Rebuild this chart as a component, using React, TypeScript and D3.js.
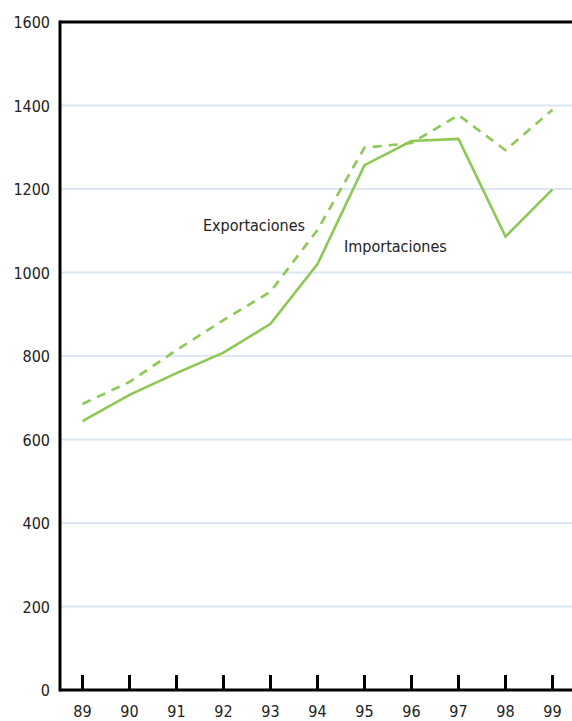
import React from 'react';
import * as d3 from 'd3';

const years = ['89', '90', '91', '92', '93', '94', '95', '96', '97', '98', '99'];
const importaciones = [644, 707, 759, 808, 877, 1020, 1257, 1315, 1320, 1086, 1199];
const exportaciones = [685, 738, 814, 886, 954, 1102, 1299, 1310, 1377, 1293, 1390];
const yTicks = [0, 200, 400, 600, 800, 1000, 1200, 1400, 1600];

const W = 572;
const H = 721;
const left = 60;
const top = 22;
const bottom = 690;
const green = '#8dc855';
const font = "'DejaVu Sans Condensed', 'Liberation Sans Narrow', sans-serif";

const App: React.FC = () => {
  const x = d3.scalePoint<string>().domain(years).range([82.5, 552.5]);
  const y = d3.scaleLinear().domain([0, 1600]).range([bottom, top]);

  const line = d3
    .line<number>()
    .x((_, i) => x(years[i]) as number)
    .y((d) => y(d));

  return (
    <svg width={W} height={H} style={{ position: 'absolute', left: 0, top: 0 }}>
      {yTicks
        .filter((t) => t > 0 && t < 1600)
        .map((t) => (
          <line key={t} x1={left} x2={W} y1={y(t)} y2={y(t)} stroke="#dce6f1" strokeWidth={2} />
        ))}
      {/* axes frame */}
      <line x1={left} x2={W} y1={top} y2={top} stroke="#000" strokeWidth={3} />
      <line x1={left} x2={left} y1={top - 1.5} y2={bottom + 1.5} stroke="#000" strokeWidth={3} />
      <line x1={left} x2={W} y1={bottom} y2={bottom} stroke="#000" strokeWidth={3} />
      {years.map((yr) => (
        <g key={yr}>
          <line x1={x(yr)} x2={x(yr)} y1={bottom} y2={bottom - 15} stroke="#000" strokeWidth={3} />
          <text x={x(yr)} y={717} textAnchor="middle" fontFamily={font} fontSize={16} fill="#222">
            {yr}
          </text>
        </g>
      ))}
      {yTicks.map((t) => (
        <text key={t} x={50} y={y(t) + 6} textAnchor="end" fontFamily={font} fontSize={16} fill="#222">
          {t}
        </text>
      ))}
      <path d={line(exportaciones) || ''} fill="none" stroke={green} strokeWidth={2.6} strokeDasharray="9,7" />
      <path d={line(importaciones) || ''} fill="none" stroke={green} strokeWidth={2.6} />
      <text x={254} y={231} textAnchor="middle" fontFamily={font} fontSize={16} fill="#222">
        Exportaciones
      </text>
      <text x={344} y={252} fontFamily={font} fontSize={16} fill="#222">
        Importaciones
      </text>
    </svg>
  );
};

export default App;
